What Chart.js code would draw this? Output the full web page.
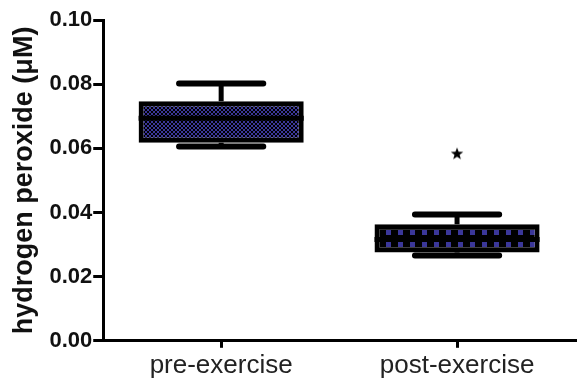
<!DOCTYPE html>
<html>
<head>
<meta charset="utf-8">
<script src="https://cdn.jsdelivr.net/npm/chart.js@4/dist/chart.umd.min.js"></script>
<style>
    html, body { margin: 0; background: #fff; }
    #caja { width: 580px; height: 383px; }
</style>
</head>
<body>
<div id="caja"><canvas id="grafico"></canvas></div>
<script>
//Datos (µM)
const grupos = ["pre-exercise", "post-exercise"];
const minimos = [0.0606, 0.0266];
const cuartil1 = [0.0617, 0.0275];
const medianas = [0.0694, 0.0316];
const cuartil3 = [0.0747, 0.0363];
const maximos = [0.0802, 0.0394];
const atipicos = [null, 0.0584];
const marcasY = [0, 0.02, 0.04, 0.06, 0.08, 0.1];

const azul = "#3b379a";

//Trama fina para la primera caja
function tramaFina() {
    const c = document.createElement("canvas");
    c.width = 4;
    c.height = 4;
    const g = c.getContext("2d");
    g.fillStyle = "#000";
    g.fillRect(0, 0, 4, 4);
    g.fillStyle = azul;
    g.fillRect(0, 0, 2, 2);
    g.fillRect(2, 2, 2, 2);
    return g.createPattern(c, "repeat");
}

//Trama de cuadrados para la segunda caja
function tramaCuadros() {
    const c = document.createElement("canvas");
    c.width = 12;
    c.height = 12;
    const g = c.getContext("2d");
    g.fillStyle = "#000";
    g.fillRect(0, 0, 12, 12);
    g.fillStyle = azul;
    g.fillRect(0, 6, 5, 5);
    return g.createPattern(c, "repeat");
}

//Estrella rellena para el valor atípico
function estrella() {
    const c = document.createElement("canvas");
    c.width = 14;
    c.height = 14;
    const g = c.getContext("2d");
    g.fillStyle = "#000";
    g.beginPath();
    for (let i = 0; i < 10; i++) {
        const r = i % 2 === 0 ? 6.5 : 2.7;
        const a = -Math.PI / 2 + (i * Math.PI) / 5;
        g.lineTo(7 + r * Math.cos(a), 7.5 + r * Math.sin(a));
    }
    g.closePath();
    g.fill();
    return c;
}

const tramas = [tramaFina(), tramaCuadros()];

//Bigotes, topes y mediana dibujados con las escalas del gráfico
const bigotes = {
    id: "bigotes",
    beforeDatasetsDraw(chart) {
        const { ctx, scales } = chart;
        const meta = chart.getDatasetMeta(0);
        ctx.save();
        ctx.strokeStyle = "#000";
        grupos.forEach((g, i) => {
            const barra = meta.data[i];
            const izq = Math.round(barra.x - barra.width / 2);
            const arriba = Math.round(Math.min(barra.y, barra.base));
            tramas[i].setTransform(new DOMMatrix([1, 0, 0, 1, izq, arriba]));
            const cx = scales.x.getPixelForValue(i);
            const medio = barra.width * 0.255;
            ctx.lineWidth = 5;
            ctx.beginPath();
            ctx.moveTo(cx, scales.y.getPixelForValue(maximos[i]));
            ctx.lineTo(cx, scales.y.getPixelForValue(cuartil3[i]));
            ctx.moveTo(cx, scales.y.getPixelForValue(cuartil1[i]));
            ctx.lineTo(cx, scales.y.getPixelForValue(minimos[i]));
            ctx.stroke();
            ctx.lineWidth = 6;
            ctx.lineCap = "round";
            ctx.beginPath();
            [maximos[i], minimos[i]].forEach((v) => {
                const py = scales.y.getPixelForValue(v);
                ctx.moveTo(cx - medio, py);
                ctx.lineTo(cx + medio, py);
            });
            ctx.stroke();
            ctx.lineCap = "butt";
        });
        ctx.restore();
    },
    afterDatasetsDraw(chart) {
        const { ctx, scales } = chart;
        const meta = chart.getDatasetMeta(0);
        ctx.save();
        ctx.strokeStyle = "#000";
        ctx.lineWidth = 5;
        grupos.forEach((g, i) => {
            const barra = meta.data[i];
            const py = scales.y.getPixelForValue(medianas[i]);
            ctx.beginPath();
            ctx.moveTo(barra.x - barra.width / 2, py);
            ctx.lineTo(barra.x + barra.width / 2, py);
            ctx.stroke();
        });
        ctx.restore();
    },
};

new Chart(document.getElementById("grafico"), {
    type: "bar",
    data: {
        labels: grupos,
        datasets: [
            {
                data: grupos.map((g, i) => [cuartil1[i], cuartil3[i]]),
                backgroundColor: tramas,
                borderColor: "#000",
                borderWidth: 5,
                borderSkipped: false,
                categoryPercentage: 1,
                barPercentage: 0.7,
                order: 2,
            },
            {
                type: "line",
                data: atipicos,
                showLine: false,
                pointStyle: estrella(),
                order: 1,
            },
        ],
    },
    options: {
        responsive: true,
        maintainAspectRatio: false,
        animation: false,
        layout: {
            padding: { top: 20, right: 0, bottom: 0, left: 8 },
        },
        plugins: {
            legend: { display: false },
            tooltip: { enabled: false },
        },
        scales: {
            x: {
                grid: {
                    offset: false,
                    drawOnChartArea: false,
                    tickLength: 7,
                    color: "#000",
                    lineWidth: 3,
                },
                border: { color: "#000", width: 3 },
                ticks: {
                    color: "#222",
                    padding: 2,
                    font: { family: "Liberation Sans", size: 26 },
                },
            },
            y: {
                min: 0,
                max: 0.1,
                afterBuildTicks: (eje) => {
                    eje.ticks = marcasY.map((v) => ({ value: v }));
                },
                grid: {
                    drawOnChartArea: false,
                    tickLength: 10,
                    color: "#000",
                    lineWidth: 3,
                },
                border: { color: "#000", width: 3 },
                ticks: {
                    color: "#111",
                    padding: 1,
                    font: { family: "Liberation Sans", size: 22, weight: "bold" },
                    callback: (v) => Number(v).toFixed(2),
                },
                title: {
                    display: true,
                    text: "hydrogen peroxide (μM)",
                    color: "#111",
                    padding: { top: 0, bottom: 8 },
                    font: { family: "Liberation Sans", size: 27, weight: "bold" },
                },
            },
        },
    },
    plugins: [bigotes],
});
</script>
</body>
</html>
